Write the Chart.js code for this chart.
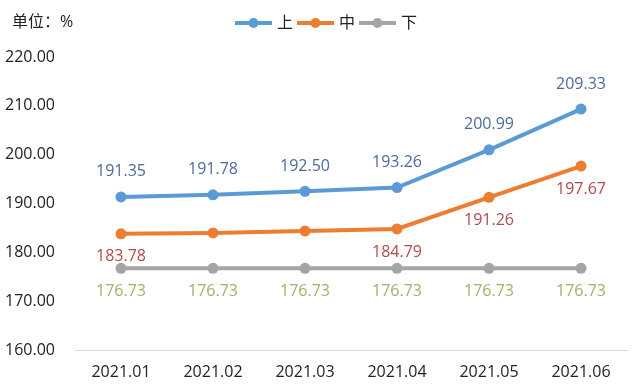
<!DOCTYPE html>
<html>
<head>
<meta charset="utf-8">
<script src="https://cdn.jsdelivr.net/npm/chart.js"></script>
<style>
  html, body { margin: 0; padding: 0; background: #fff; }
  #wrap { width: 640px; height: 390px; }
</style>
</head>
<body>
<div id="wrap"><canvas id="chart" width="640" height="390"></canvas></div>
<script>
// chart data
const months = ['2021.01', '2021.02', '2021.03', '2021.04', '2021.05', '2021.06'];
const upperValues = [191.35, 191.78, 192.50, 193.26, 200.99, 209.33];
const middleValues = [183.78, 183.98, 184.35, 184.79, 191.26, 197.67];
const lowerValues = [176.73, 176.73, 176.73, 176.73, 176.73, 176.73];
// which points carry a visible label (02/03 of the middle series show none)
const middleLabelShown = [true, false, false, true, true, true];
const seriesNames = ['上', '中', '下'];
const yTicks = [160, 170, 180, 190, 200, 210, 220];

const FONT = '"Open Sans", "Noto Sans CJK SC", sans-serif';
const lineColors = ['#5b9bd5', '#ed7d31', '#a5a5a5'];
const labelColors = ['#4e6b9c', '#b5484a', '#a7ae6a'];

// value labels next to each point
const valueLabels = {
    id: 'valueLabels',
    afterDatasetsDraw(chart) {
        const ctx = chart.ctx;
        ctx.save();
        ctx.font = '16px ' + FONT;
        ctx.textAlign = 'center';
        ctx.textBaseline = 'middle';
        chart.data.datasets.forEach((ds, i) => {
            const meta = chart.getDatasetMeta(i);
            meta.data.forEach((pt, j) => {
                if (i === 1 && !middleLabelShown[j]) return;
                const offset = i === 0 ? -25 : 23;
                ctx.fillStyle = labelColors[i];
                ctx.fillText(ds.data[j].toFixed(2), pt.x, pt.y + offset);
            });
        });
        ctx.restore();
    }
};

// unit text and legend at top
const header = {
    id: 'header',
    afterDraw(chart) {
        const ctx = chart.ctx;
        ctx.save();
        ctx.font = '16px ' + FONT;
        ctx.textBaseline = 'middle';
        ctx.fillStyle = '#222';
        ctx.textAlign = 'left';
        ctx.fillText('单位：%', 12, 22);

        let x = 235;
        seriesNames.forEach((name, i) => {
            ctx.strokeStyle = lineColors[i];
            ctx.lineWidth = 4;
            ctx.beginPath();
            ctx.moveTo(x, 23);
            ctx.lineTo(x + 37, 23);
            ctx.stroke();
            ctx.fillStyle = lineColors[i];
            ctx.beginPath();
            ctx.arc(x + 18.5, 23, 5, 0, Math.PI * 2);
            ctx.fill();
            ctx.fillStyle = '#222';
            ctx.fillText(name, x + 42, 23);
            x += 62;
        });
        ctx.restore();
    }
};

function makeDataset(label, data, color) {
    return {
        label: label,
        data: data,
        borderColor: color,
        backgroundColor: color,
        borderWidth: 4,
        pointRadius: 5.5,
        pointHoverRadius: 5.5,
        pointBackgroundColor: color,
        pointBorderWidth: 0,
        tension: 0,
        fill: false
    };
}

new Chart(document.getElementById('chart'), {
    type: 'line',
    data: {
        labels: months,
        datasets: [
            makeDataset(seriesNames[0], upperValues, lineColors[0]),
            makeDataset(seriesNames[1], middleValues, lineColors[1]),
            makeDataset(seriesNames[2], lowerValues, lineColors[2])
        ]
    },
    options: {
        responsive: false,
        animation: false,
        layout: { padding: { top: 57, right: 13, left: 0, bottom: 0 } },
        plugins: {
            legend: { display: false },
            tooltip: { enabled: false }
        },
        scales: {
            x: {
                offset: true,
                afterFit(scale) { scale.height = 40; },
                grid: { display: false },
                border: { display: true, color: '#d9d9d9', width: 1 },
                ticks: { color: '#222', font: { size: 16, family: FONT }, padding: 5, maxRotation: 0 }
            },
            y: {
                min: yTicks[0],
                max: yTicks[yTicks.length - 1],
                afterBuildTicks(scale) {
                    scale.ticks = yTicks.map(v => ({ value: v }));
                },
                afterFit(scale) { scale.width = 75; },
                grid: { display: false },
                border: { display: false },
                ticks: {
                    color: '#222',
                    font: { size: 16, family: FONT },
                    padding: 12,
                    callback: v => Number(v).toFixed(2)
                }
            }
        }
    },
    plugins: [valueLabels, header]
});
</script>
</body>
</html>
